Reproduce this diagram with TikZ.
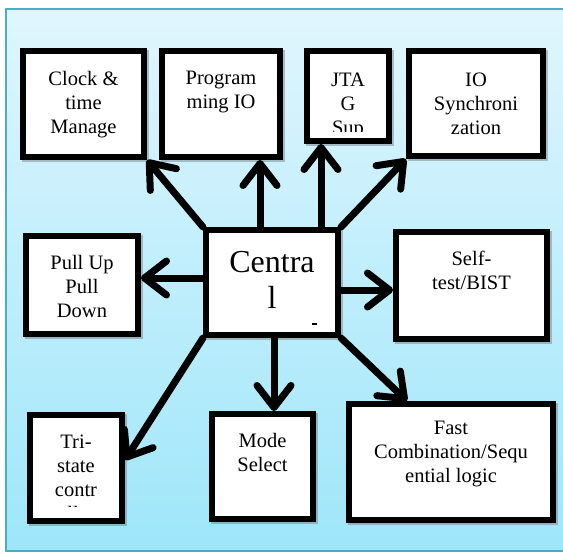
\documentclass[tikz,border=0pt]{standalone}
\usepackage{fontspec}
\setmainfont{Liberation Serif}
\usetikzlibrary{arrows.meta, shadows}
\definecolor{bgtop}{RGB}{224,246,253}
\definecolor{bgbot}{RGB}{158,230,250}
\definecolor{frameline}{RGB}{75,172,198}
\definecolor{shade}{RGB}{110,120,125}
\tikzstyle{blk} = [draw, fill=white, line width=6pt, rectangle, inner sep=0pt, drop shadow={shadow xshift=2pt, shadow yshift=-2pt, fill=shade, draw=shade, opacity=0.45}]
\tikzstyle{lbl} = [anchor=north, align=center, inner sep=0pt, font=\fontsize{20.5}{24}\selectfont]
\tikzstyle{arr} = [line width=7pt, line cap=round, line join=round, -{Straight Barb[length=22pt, width=34pt, round]}, preaction={draw=shade, transform canvas={shift={(2pt,-2.5pt)}}}]

\begin{document}
\begin{tikzpicture}[x=1pt, y=-1pt]
    \useasboundingbox (0,0) rectangle (563,554);
    \draw[frameline, line width=1.5pt, top color=bgtop, bottom color=bgbot] (6,9) rectangle (580,551);
    % boxes
    \node[blk, minimum width=121pt, minimum height=106pt] (clk) at (83.5,104) {};
    \node[blk, minimum width=118pt, minimum height=106pt] (prg) at (221,104) {};
    \node[blk, minimum width=82pt, minimum height=90pt] (jtg) at (348,96) {};
    \node[blk, minimum width=134pt, minimum height=105pt] (ios) at (476,103.5) {};
    \node[blk, minimum width=112pt, minimum height=98pt] (pul) at (82,285) {};
    \node[blk, minimum width=132pt, minimum height=105pt] (cen) at (272,282.5) {};
    \node[blk, minimum width=151pt, minimum height=107pt] (slf) at (471.5,285.5) {};
    \node[blk, minimum width=92pt, minimum height=106pt] (tri) at (76,468) {};
    \node[blk, minimum width=101pt, minimum height=105pt] (mod) at (262.5,466.5) {};
    \node[blk, minimum width=204pt, minimum height=116pt] (fst) at (451,462) {};
    % texts
    \node[lbl] (clkt) at ([yshift=-23pt]clk.north) {Clock \&\\time\\Manage};
    \node[lbl] (prgt) at ([yshift=-23pt]prg.north) {Program\\ming IO};
    \begin{scope}
        \clip (304,48) rectangle (392,131);
        \node[lbl] (jtgt) at ([yshift=-25pt]jtg.north) {JTA\\G\\Sup};
    \end{scope}
    \node[lbl] (iost) at ([yshift=-25pt]ios.north) {IO\\Synchroni\\zation};
    \node[lbl] (pult) at ([yshift=-22pt]pul.north) {Pull Up\\Pull\\Down};
    \node[lbl, font=\fontsize{32}{36}\selectfont] (cent) at ([yshift=-24pt]cen.north) {Centra\\l};
    \fill (312,322.5) rectangle (317,324.5);
    \node[lbl] (slft) at ([yshift=-22pt]slf.north) {Self-\\test/BIST};
    \begin{scope}
        \clip (27,412) rectangle (125,506.5);
        \node[lbl] (trit) at ([yshift=-23pt]tri.north) {Tri-\\state\\contr\\oller};
    \end{scope}
    \node[lbl] (modt) at ([yshift=-22pt]mod.north) {Mode\\Select};
    \node[lbl] (fstt) at ([yshift=-20pt]fst.north) {Fast\\Combination/Sequ\\ential logic};
    % helper points
    \coordinate (pa) at (260,0);
    \coordinate (pf) at (321,0);
    \coordinate (pe) at (274,0);
    \coordinate (pd) at (407,0);
    \coordinate (pb) at (0,278);
    \coordinate (pg) at (0,290);
    \coordinate (pc) at (0,460);
    % arrows
    \draw[arr] (cen.north west) -- (clk.south east);
    \draw[arr] (cen.north -| pa) -- (prg.south -| pa);
    \draw[arr] (cen.north -| pf) -- (jtg.south -| pf);
    \draw[arr] (cen.north east) -- (ios.south west);
    \draw[arr] (cen.west |- pb) -- (pul.east |- pb);
    \draw[arr] (cen.east |- pg) -- (slf.west |- pg);
    \draw[arr] (cen.south west) -- (tri.east |- pc);
    \draw[arr] (cen.south -| pe) -- (mod.north -| pe);
    \draw[arr] (cen.south east) -- (fst.north -| pd);
\end{tikzpicture}
\end{document}
